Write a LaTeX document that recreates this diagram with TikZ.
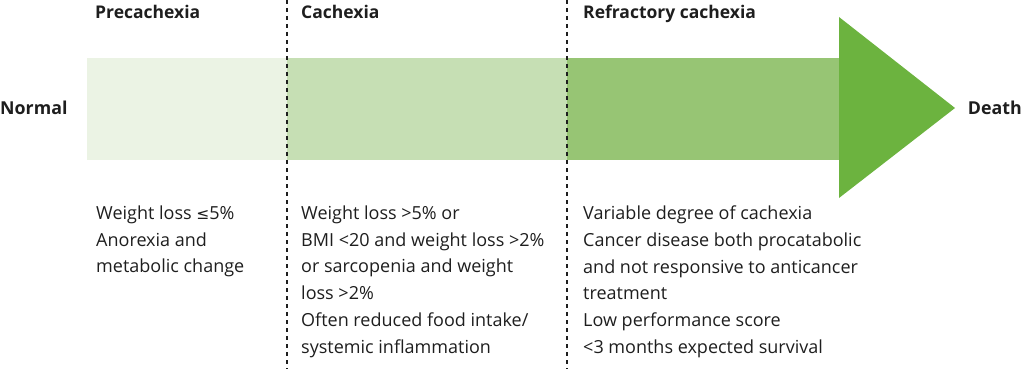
\documentclass[tikz,border=0pt]{standalone}
\usepackage{fontspec}
\setmainfont{Open Sans}
\newfontfamily\symfont{DejaVu Sans}
\definecolor{segA}{HTML}{EBF3E4}
\definecolor{segB}{HTML}{C6DFB4}
\definecolor{segC}{HTML}{97C574}
\definecolor{headC}{HTML}{6CB33F}
\definecolor{inkC}{HTML}{1E1E1E}
\tikzset{
  divider/.style={inkC, line width=1.6pt, dash pattern=on 4pt off 4pt},
  head/.style={font=\fontsize{17.5}{20}\selectfont\bfseries, text=inkC, inner sep=0pt, anchor=base west},
  endlabel/.style={font=\fontsize{17.8}{20}\selectfont\bfseries, text=inkC, inner sep=0pt},
  body/.style={font=\fontsize{18}{26.8}\selectfont, text=inkC, inner sep=0pt, anchor=north west, align=left}
}
\begin{document}
\begin{tikzpicture}[x=1pt,y=-1pt]
\useasboundingbox (0,0) rectangle (1024,369);
% bar segments
\fill[segA] (87,58) rectangle (287,160);
\fill[segB] (287,58) rectangle (567,160);
\fill[segC] (567,58) rectangle (839,160);
\fill[headC] (839,17) -- (955,108) -- (839,198) -- cycle;
% dividers
\coordinate (d1t) at (287,0); \coordinate (d1b) at (287,369);
\coordinate (d2t) at (567,0); \coordinate (d2b) at (567,369);
\draw[divider] (d1t) -- (d1b);
\draw[divider] (d2t) -- (d2b);
% end labels
\node[endlabel, anchor=west] (normal) at (0,108) {Normal};
\node[endlabel, anchor=east] (death) at (1022,108) {Death};
% headers
\node[head] (h1) at (95,19) {Precachexia};
\node[head] (h2) at (301,19) {Cachexia};
\node[head] (h3) at (583,19) {Refractory cachexia};
% bodies
\node[body] (b1) at (96,205.5) {Weight loss {\symfont\fontsize{15.5}{26.8}\selectfont ≤}5\%\\Anorexia and\\metabolic change};
\node[body] (b2) at (301,205.5) {Weight loss >5\% or\\BMI <20 and weight loss >2\%\\or sarcopenia and weight\\loss >2\%\\Often reduced food intake/\\systemic inflammation};
\node[body] (b3) at (583,205.5) {Variable degree of cachexia\\Cancer disease both procatabolic\\and not responsive to anticancer\\treatment\\Low performance score\\<3 months expected survival};
\end{tikzpicture}
\end{document}
